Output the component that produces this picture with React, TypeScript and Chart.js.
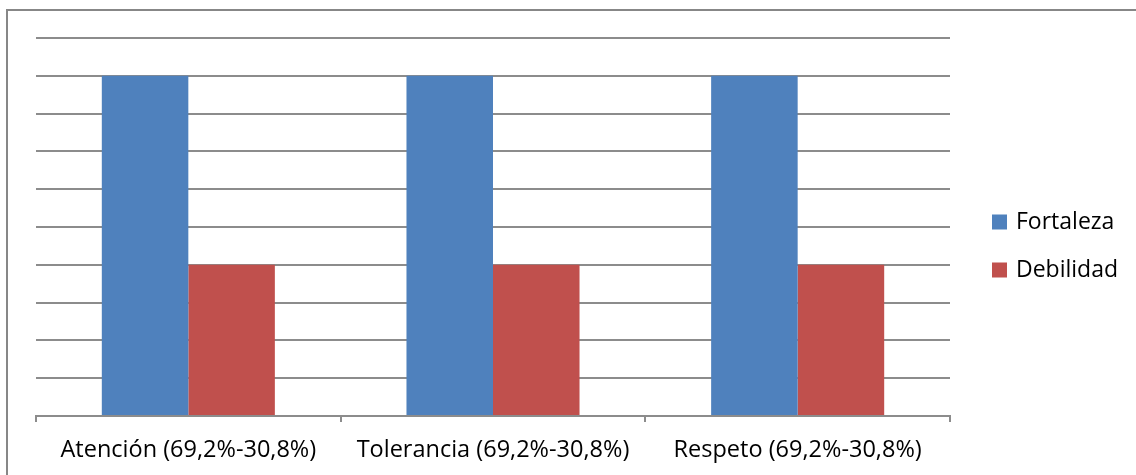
import { useEffect, useRef } from "react";
import { Chart, registerables } from "chart.js";

Chart.register(...registerables);

// Category labels and series values (counts out of 13 responses)
const categories = [
  "Atención (69,2%-30,8%)",
  "Tolerancia (69,2%-30,8%)",
  "Respeto (69,2%-30,8%)",
];
const seriesNames = ["Fortaleza", "Debilidad"];
const fortaleza = [9, 9, 9];
const debilidad = [4, 4, 4];
const yMin = 0;
const yMax = 10;
const yStep = 1;

const BLUE = "#4F81BD";
const RED = "#C0504D";
const GRID = "#8c8c8c";
const FONT = "'Open Sans', Lato, sans-serif";

// Legend drawn to the right of the plot area, Excel style
const sideLegend = {
  id: "sideLegend",
  afterDraw(chart: Chart) {
    const { ctx, chartArea } = chart;
    const x0 = chartArea.right + 42;
    const y0 = chartArea.top + 184;
    const step = 48;
    ctx.save();
    ctx.font = `23px ${FONT}`;
    ctx.textBaseline = "middle";
    ctx.textAlign = "left";
    chart.data.datasets.forEach((ds, i) => {
      const cy = y0 + i * step;
      ctx.fillStyle = ds.backgroundColor as string;
      ctx.fillRect(x0, cy - 7.5, 15, 15);
      ctx.fillStyle = "#000";
      ctx.fillText(ds.label as string, x0 + 24, cy);
    });
    ctx.restore();
  },
};

export default function App() {
  const canvasRef = useRef<HTMLCanvasElement | null>(null);

  useEffect(() => {
    const canvas = canvasRef.current;
    if (!canvas) return;
    const chart = new Chart(canvas, {
      type: "bar",
      data: {
        labels: categories,
        datasets: [
          { label: seriesNames[0], data: fortaleza, backgroundColor: BLUE },
          { label: seriesNames[1], data: debilidad, backgroundColor: RED },
        ],
      },
      options: {
        animation: false,
        responsive: false,
        devicePixelRatio: 1,
        layout: { padding: { left: 36, top: 38, right: 186, bottom: 0 } },
        datasets: {
          bar: { barPercentage: 1, categoryPercentage: 0.568 },
        },
        plugins: {
          legend: { display: false },
          tooltip: { enabled: false },
        },
        scales: {
          x: {
            afterFit: (scale: any) => {
              scale.height = 59;
            },
            grid: {
              offset: true,
              drawOnChartArea: false,
              drawTicks: true,
              tickLength: 6,
              tickColor: GRID,
              tickWidth: 2,
              color: GRID,
              lineWidth: 2,
            },
            border: { display: true, color: GRID, width: 2 },
            ticks: {
              color: "#000",
              font: { family: FONT, size: 23.5 },
              padding: 14,
              maxRotation: 0,
              autoSkip: false,
            },
          },
          y: {
            min: yMin,
            max: yMax,
            afterFit: (scale: any) => {
              scale.width = 0;
            },
            ticks: { display: false, stepSize: yStep },
            grid: { color: GRID, lineWidth: 2, drawTicks: false },
            border: { display: false },
          },
        },
      },
      plugins: [sideLegend],
    });
    return () => chart.destroy();
  }, []);

  return (
    <div
      style={{
        position: "absolute",
        left: 0,
        top: 0,
        width: 1136,
        height: 475,
        overflow: "hidden",
        background: "#fff",
      }}
    >
      <div
        style={{
          position: "absolute",
          left: 6,
          top: 9,
          width: 1300,
          height: 700,
          border: "2px solid #878787",
          boxSizing: "border-box",
        }}
      />
      <canvas
        ref={canvasRef}
        width={1136}
        height={475}
        style={{ position: "absolute", left: 0, top: 0, width: 1136, height: 475 }}
      />
    </div>
  );
}
